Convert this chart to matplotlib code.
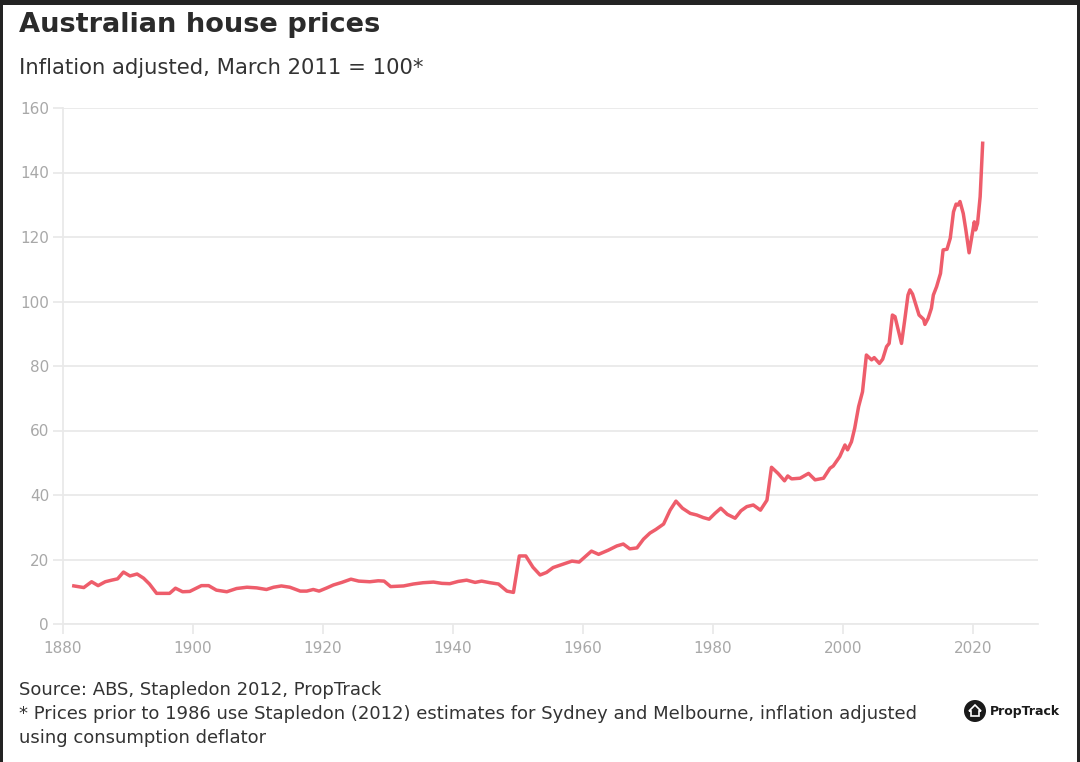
import matplotlib
matplotlib.use("Agg")
import matplotlib.pyplot as plt
from matplotlib.patches import Ellipse, Rectangle, Polygon

# ---- data ----
years = [1881.4, 1883.2, 1884.4, 1885.4, 1886.5, 1887.5, 1888.4, 1889.3, 1890.3, 1891.4,
         1892.4, 1893.3, 1894.4, 1896.4, 1897.3, 1898.4, 1899.5, 1901.3, 1902.4, 1903.6,
         1905.2, 1906.7, 1908.3, 1909.8, 1911.3, 1912.4, 1913.6, 1914.9, 1916.5, 1917.5,
         1918.5, 1919.4, 1920.6, 1921.6, 1922.9, 1924.3, 1925.5, 1927.2, 1928.5, 1929.4,
         1930.4, 1932.4, 1933.9, 1935.4, 1937.0, 1938.3, 1939.5, 1940.8, 1942.1, 1943.4,
         1944.4, 1945.7, 1947.0, 1948.3, 1949.3, 1950.2, 1951.2, 1952.3, 1953.4, 1954.4,
         1955.4, 1957.0, 1958.3, 1959.4, 1960.3, 1961.3, 1962.4, 1963.9, 1965.2, 1966.2,
         1967.2, 1968.3, 1969.3, 1970.3, 1971.2, 1972.4, 1973.4, 1974.3, 1975.3, 1976.5,
         1977.5, 1978.5, 1979.4, 1980.3, 1981.2, 1982.2, 1983.4, 1984.3, 1985.2, 1986.2,
         1987.3, 1988.3, 1989.0, 1990.0, 1991.0, 1991.5, 1992.1, 1993.4, 1994.7, 1995.7,
         1997.0, 1998.0, 1998.5, 1999.5, 2000.3, 2000.7, 2001.3, 2001.8, 2002.4, 2003.0,
         2003.6, 2004.4, 2004.8, 2005.6, 2006.1, 2006.7, 2007.1, 2007.6, 2008.0, 2008.5,
         2009.0, 2009.5, 2010.0, 2010.3, 2010.7, 2011.3, 2011.7, 2012.4, 2012.6, 2013.1,
         2013.6, 2013.9, 2014.4, 2015.0, 2015.4, 2016.0, 2016.5, 2017.0, 2017.4, 2017.7,
         2018.0, 2018.5, 2018.9, 2019.3, 2019.4, 2019.95, 2020.2, 2020.4, 2020.7, 2021.1,
         2021.5]
index = [11.9, 11.3, 13.1, 11.9, 13.1, 13.6, 14.0, 16.1, 14.9, 15.5,
         14.2, 12.4, 9.5, 9.5, 11.1, 10.0, 10.1, 11.9, 11.9, 10.5,
         10.0, 11.0, 11.4, 11.2, 10.7, 11.4, 11.8, 11.4, 10.2, 10.2,
         10.7, 10.2, 11.2, 12.1, 12.9, 13.9, 13.3, 13.1, 13.4, 13.3,
         11.6, 11.8, 12.4, 12.8, 13.0, 12.6, 12.5, 13.2, 13.6, 12.9,
         13.3, 12.8, 12.4, 10.2, 9.8, 21.1, 21.1, 17.6, 15.2, 16.0,
         17.5, 18.6, 19.5, 19.2, 20.8, 22.6, 21.6, 22.9, 24.2, 24.8,
         23.3, 23.6, 26.3, 28.2, 29.3, 31.0, 35.3, 38.1, 35.9, 34.3,
         33.8, 33.0, 32.5, 34.3, 35.9, 34.0, 32.8, 35.1, 36.4, 36.9,
         35.3, 38.4, 48.6, 46.7, 44.4, 45.9, 45.0, 45.2, 46.7, 44.7,
         45.2, 48.3, 49.0, 51.9, 55.5, 54.0, 56.5, 60.7, 67.4, 72.0,
         83.4, 81.9, 82.6, 80.8, 82.1, 86.0, 87.0, 95.8, 95.3, 91.2,
         87.0, 94.3, 102.0, 103.6, 102.3, 98.4, 95.8, 94.5, 92.9, 94.8,
         97.9, 102.0, 104.6, 108.7, 116.0, 116.2, 119.6, 127.8, 130.2, 129.9,
         131.0, 127.3, 122.2, 116.5, 115.1, 121.7, 124.7, 122.2, 124.2, 132.5,
         149.6]

x_ticks = [1880, 1900, 1920, 1940, 1960, 1980, 2000, 2020]
y_ticks = [0, 20, 40, 60, 80, 100, 120, 140, 160]

title = "Australian house prices"
subtitle = "Inflation adjusted, March 2011 = 100*"
source_lines = ["Source: ABS, Stapledon 2012, PropTrack",
                "* Prices prior to 1986 use Stapledon (2012) estimates for Sydney and Melbourne, inflation adjusted",
                "using consumption deflator"]

FONT = ["DejaVu Sans"]
LINE_COLOR = "#EE5D6B"
GRID = "#E9E9E9"
TICK_TXT = "#A8A8A8"

fig = plt.figure(figsize=(10.8, 7.62), dpi=100)
fig.patch.set_facecolor("white")

W, H = 1080, 762
ax = fig.add_axes([63 / W, 1 - 624 / H, (1038 - 63) / W, (624 - 108) / H])
ax.plot(years, index, color=LINE_COLOR, lw=2.5, solid_joinstyle="round", solid_capstyle="butt", zorder=3)
ax.set_xlim(1880, 2030)
ax.set_ylim(0, 160)
ax.set_xticks(x_ticks)
ax.set_yticks(y_ticks)
ax.set_xticklabels([str(t) for t in x_ticks], family=FONT, fontsize=11, color=TICK_TXT)
ax.set_yticklabels([str(t) for t in y_ticks], family=FONT, fontsize=11, color=TICK_TXT)
ax.grid(axis="y", color=GRID, lw=1.3, zorder=0)
ax.grid(axis="x", visible=False)
for s in ["top", "right"]:
    ax.spines[s].set_visible(False)
ax.spines["left"].set_color(GRID)
ax.spines["left"].set_linewidth(1.3)
ax.spines["bottom"].set_color(GRID)
ax.spines["bottom"].set_linewidth(1.3)
ax.tick_params(axis="both", colors=GRID, length=7, width=1.3, labelcolor=TICK_TXT)
ax.tick_params(axis="x", pad=5)
ax.tick_params(axis="y", pad=3)

# title & subtitle
fig.text(19 / W, 1 - 25 / H, title, family=FONT, fontweight="bold", fontsize=19.6,
         color="#2B2B2B", va="center", ha="left")
fig.text(19 / W, 1 - 68 / H, subtitle, family=FONT, fontsize=15.2,
         color="#333333", va="center", ha="left")

# footer
for i, line in enumerate(source_lines):
    fig.text(19 / W, 1 - (690 + i * 24) / H, line, family=FONT, fontsize=13,
             color="#333333", va="center", ha="left")

# PropTrack logo
cx, cy, r = 975, 711, 11
fig.patches.append(Ellipse((cx / W, 1 - cy / H), 2 * r / W, 2 * r / H, transform=fig.transFigure,
                           facecolor="#1A1A1A", edgecolor="none"))
house = [(cx - 4, cy + 5), (cx - 4, cy), (cx - 6, cy), (cx, cy - 6), (cx + 6, cy), (cx + 4, cy), (cx + 4, cy + 5)]
fig.patches.append(Polygon([(px / W, 1 - py / H) for px, py in house], closed=True,
                           transform=fig.transFigure, facecolor="none", edgecolor="white", lw=1.2))
fig.text(990 / W, 1 - 711 / H, "PropTrack", family=FONT, fontweight="bold", fontsize=9,
         color="#1A1A1A", va="center", ha="left")

# dark frame
for rect in [(0, 1 - 5 / H, 1, 5 / H), (0, 0, 3 / W, 1), (1 - 3 / W, 0, 3 / W, 1)]:
    fig.patches.append(Rectangle(rect[:2], rect[2], rect[3], transform=fig.transFigure,
                                 facecolor="#232323", edgecolor="none"))

fig.savefig("out.png", dpi=100, facecolor="white")
